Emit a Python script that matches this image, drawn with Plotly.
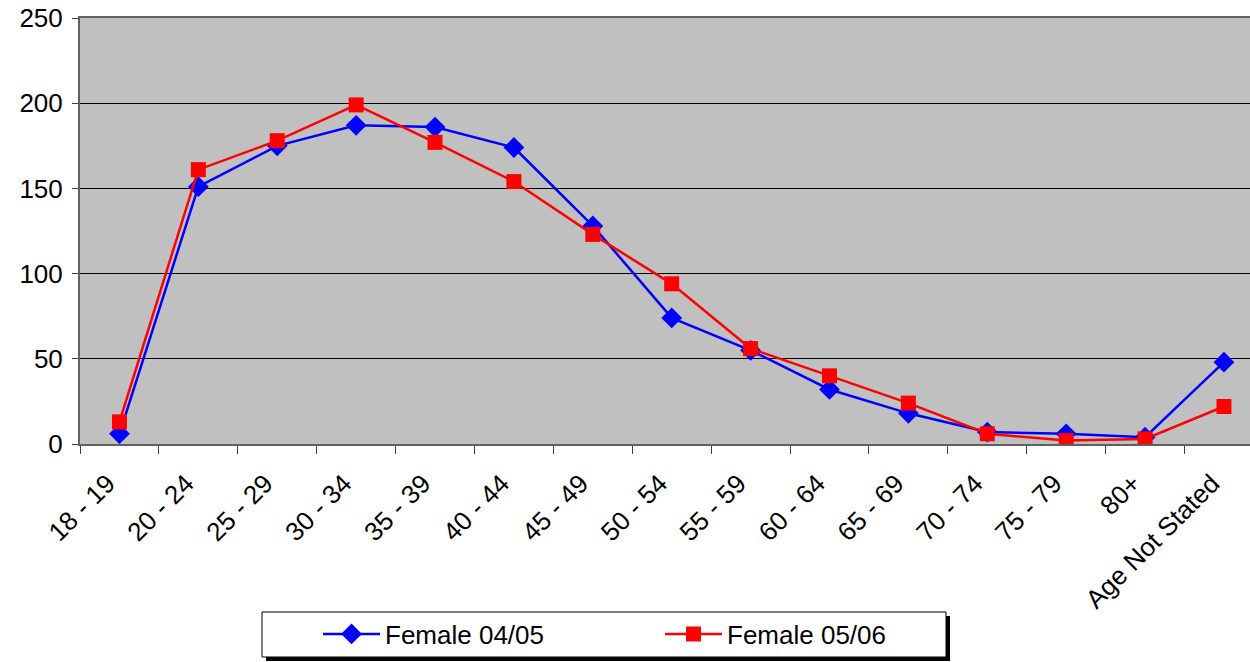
import plotly.graph_objects as go

categories = ["18 - 19", "20 - 24", "25 - 29", "30 - 34", "35 - 39", "40 - 44", "45 - 49",
              "50 - 54", "55 - 59", "60 - 64", "65 - 69", "70 - 74", "75 - 79", "80+",
              "Age Not Stated"]
female_0405 = [6, 151, 175, 187, 186, 174, 128, 74, 55, 32, 18, 7, 6, 4, 48]
female_0506 = [13, 161, 178, 199, 177, 154, 123, 94, 56, 40, 24, 6, 2, 3, 22]
y_ticks = [0, 50, 100, 150, 200, 250]

FONT = "Liberation Sans, Arial, sans-serif"

fig = go.Figure()
fig.add_trace(go.Scatter(
    x=categories, y=female_0405, name="Female 04/05", mode="lines+markers",
    line=dict(color="#0000FF", width=2.5),
    marker=dict(symbol="diamond", size=16, color="#0000FF"),
))
fig.add_trace(go.Scatter(
    x=categories, y=female_0506, name="Female 05/06", mode="lines+markers",
    line=dict(color="#FF0000", width=2.5),
    marker=dict(symbol="square", size=15, color="#FF0000"),
))

# legend frame with shadow
fig.add_shape(type="rect", xref="paper", yref="paper",
              x0=(266 - 80) / 1170, x1=(950 - 80) / 1170,
              y0=(444 - 661) / 426, y1=(444 - 616) / 426,
              fillcolor="black", line=dict(width=0), layer="above")
fig.add_shape(type="rect", xref="paper", yref="paper",
              x0=(262 - 80) / 1170, x1=(946 - 80) / 1170,
              y0=(444 - 657) / 426, y1=(444 - 612) / 426,
              fillcolor="white", line=dict(color="black", width=1), layer="above")

fig.update_layout(
    width=1250, height=662,
    margin=dict(l=80, r=0, t=18, b=218),
    paper_bgcolor="white", plot_bgcolor="#C0C0C0",
    font=dict(family=FONT, size=26, color="black"),
    showlegend=True,
    legend=dict(orientation="h", x=(660 - 80) / 1170, xanchor="center",
                y=(444 - 634) / 426, yanchor="middle",
                bgcolor="rgba(0,0,0,0)", borderwidth=0,
                font=dict(family=FONT, size=26, color="black"),
                entrywidth=270, itemwidth=57),
    xaxis=dict(type="category", range=[-0.5, 14.33], tickangle=-45,
               ticks="outside", ticklen=8, tickcolor="#404040", tickson="boundaries",
               showline=True, linecolor="#606060", linewidth=2, mirror=True,
               showgrid=False, tickfont=dict(size=26),
               ticklabelstandoff=12, ticklabelshift=-12),
    yaxis=dict(range=[0, 250], tickvals=y_ticks, ticks="outside", ticklen=6,
               tickcolor="#404040", showline=True, linecolor="#606060", linewidth=2,
               showgrid=True, gridcolor="black", gridwidth=1, zeroline=False,
               tickfont=dict(size=26), ticklabelstandoff=4),
)

fig.write_html("out.html")
